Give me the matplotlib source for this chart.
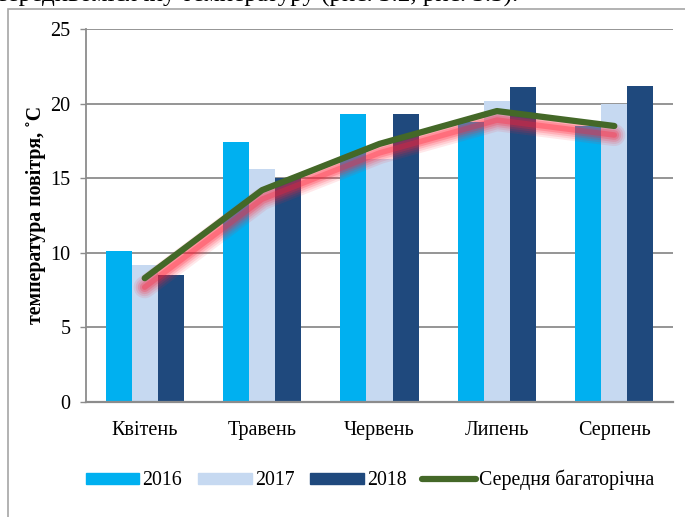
import numpy as np
import matplotlib
matplotlib.use("Agg")
import matplotlib.pyplot as plt
import matplotlib.patheffects as pe
from matplotlib.patches import Rectangle
from matplotlib.lines import Line2D

plt.rcParams['font.family'] = ['Liberation Serif', 'DejaVu Serif']

months = ["Квітень", "Травень", "Червень", "Липень", "Серпень"]
t2016 = [10.1, 17.4, 19.3, 18.8, 18.5]
t2017 = [9.2, 15.6, 16.3, 20.2, 20.0]
t2018 = [8.5, 15.0, 19.3, 21.1, 21.2]
t_mean = [8.3, 14.2, 17.3, 19.5, 18.5]
series_names = ["2016", "2017", "2018", "Середня багаторічна"]

W, H = 685, 517
fig = plt.figure(figsize=(W / 100, H / 100), dpi=100)
ax = fig.add_axes([86 / W, 1 - 402 / H, (673 - 86) / W, (402 - 29) / H])

x = np.arange(len(months))
bw = 0.222
ax.bar(x - bw, t2016, bw, color='#00b0f0', zorder=2, label=series_names[0])
ax.bar(x, t2017, bw, color='#c6d9f1', zorder=2, label=series_names[1])
ax.bar(x + bw, t2018, bw, color='#1f497d', zorder=2, label=series_names[2])

# red blurred shadow under the mean line
glow = []
for lw, a in [(16, 0.10), (13, 0.12), (10, 0.16), (7, 0.22), (4, 0.3)]:
    glow.append(pe.SimpleLineShadow(offset=(0, -6.5), shadow_color='#ff2035', alpha=a, rho=1.0, linewidth=lw))
glow.append(pe.Normal())
ax.plot(x, t_mean, color='#446828', lw=4.5, solid_capstyle='round', solid_joinstyle='round',
        zorder=3, path_effects=glow)

ax.set_xlim(-0.5, 4.5)
ax.set_ylim(0, 25)
ax.set_yticks([0, 5, 10, 15, 20, 25])
ax.set_xticks(x)
ax.set_xticklabels(months, fontsize=14.5)
ax.tick_params(axis='x', length=0, pad=14)
ax.tick_params(axis='y', length=4, width=1, color='#8c8c8c', pad=7, labelsize=14.5, direction='out')
ax.yaxis.grid(True, color='#8c8c8c', lw=1.3, zorder=0)
ax.set_axisbelow(True)
for s in ['top', 'right']:
    ax.spines[s].set_visible(False)
ax.spines['left'].set_color('#8c8c8c')
ax.spines['left'].set_linewidth(1.3)
ax.spines['bottom'].set_color('#8c8c8c')
ax.spines['bottom'].set_linewidth(1.6)

fig.text(36 / W, 1 - 215 / H, "температура повітря, ˚С", rotation=90, fontsize=14.3,
         fontweight='bold', ha='center', va='center')

handles = [Rectangle((0, 0), 1, 1, color='#00b0f0'),
           Rectangle((0, 0), 1, 1, color='#c6d9f1'),
           Rectangle((0, 0), 1, 1, color='#1f497d'),
           Line2D([0], [0], color='#446828', lw=4.5, solid_capstyle='round')]
fig.legend(handles, series_names, loc='center', bbox_to_anchor=(370 / W, 1 - 480 / H), ncol=4,
           frameon=False, fontsize=14.3, handlelength=2.7, handleheight=0.45, handletextpad=0.15,
           columnspacing=0.8)

# frame around the chart and the cut-off line of text above it
fig.patches.append(Rectangle((8 / W, -0.1), 1.2, 1.1 - 8.5 / H, transform=fig.transFigure,
                             fill=False, edgecolor='#a6a6a6', lw=1.2))
fig.text(-4 / W, 1 - 2 / H, "середньомісячну температуру (рис. 3.2, рис. 3.3).", fontsize=18,
         ha='left', va='baseline')

fig.savefig("out.png", dpi=100)
